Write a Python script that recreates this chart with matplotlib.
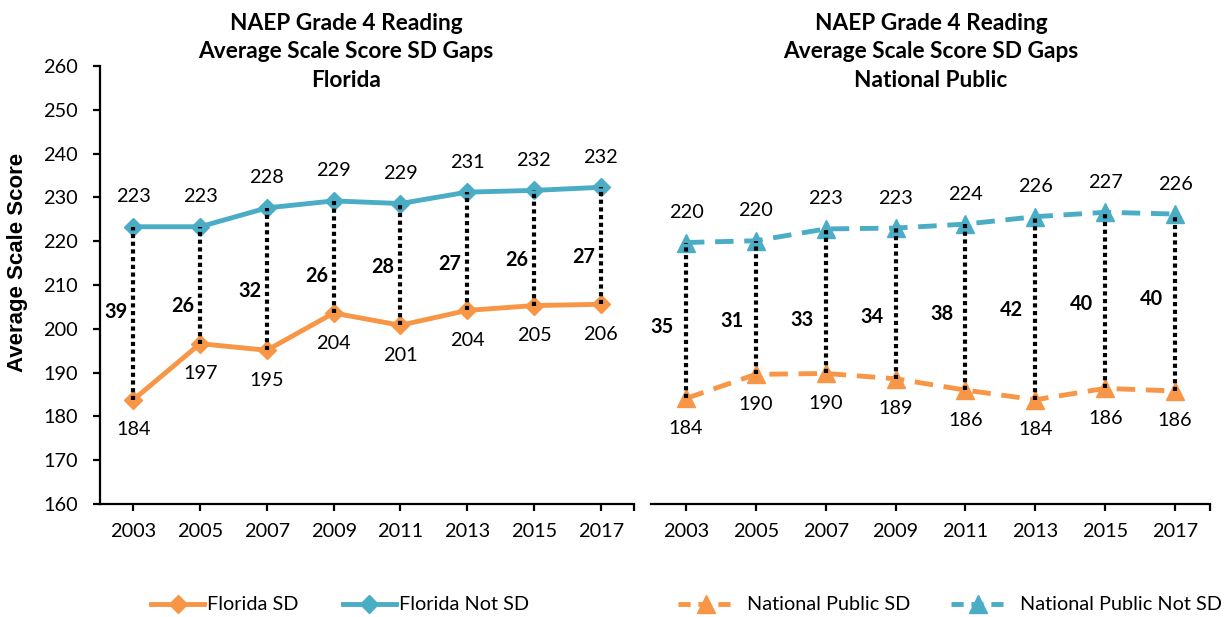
import matplotlib
matplotlib.use("Agg")
import matplotlib.pyplot as plt
from matplotlib.lines import Line2D

plt.rcParams['font.family'] = ['Lato', 'DejaVu Sans']

# ---------------- data ----------------
years = ["2003", "2005", "2007", "2009", "2011", "2013", "2015", "2017"]

florida_sd = [183.8, 196.6, 195.1, 203.6, 200.8, 204.2, 205.3, 205.6]
florida_not_sd = [223.3, 223.3, 227.6, 229.2, 228.6, 231.2, 231.6, 232.3]
florida_gaps = [39, 26, 32, 26, 28, 27, 26, 27]
florida_gap_label_y = [203.8, 205.3, 208.7, 212.1, 214.2, 214.8, 215.7, 216.3]

national_sd = [184.1, 189.6, 189.8, 188.6, 186.0, 183.8, 186.4, 185.8]
national_not_sd = [219.7, 220.1, 222.8, 223.0, 223.9, 225.6, 226.6, 226.2]
national_gaps = [35, 31, 33, 34, 38, 42, 40, 40]
national_gap_label_y = [200.5, 201.8, 202.1, 202.7, 203.3, 204.3, 205.7, 206.9]

y_ticks = [160, 170, 180, 190, 200, 210, 220, 230, 240, 250, 260]

ORANGE = "#F79646"
BLUE = "#4BACC6"
W, H = 1227, 617

fig = plt.figure(figsize=(W / 100, H / 100), dpi=100)

def fx(px):
    return px / W

def fy(py):
    return 1 - py / H

ax1 = fig.add_axes([fx(100), fy(504), fx(634) - fx(100), fy(66) - fy(504)])
ax2 = fig.add_axes([fx(651), fy(504), fx(1210) - fx(651), fy(66) - fy(504)])

x = list(range(len(years)))
FS = 14.3


def style_axis(ax, show_y):
    ax.set_xlim(-0.5, len(years) - 0.5)
    ax.set_ylim(160, 260)
    for s in ["top", "right"]:
        ax.spines[s].set_visible(False)
    ax.spines["bottom"].set_linewidth(1.6)
    ax.set_xticks(x + [len(years) - 0.5])
    ax.set_xticklabels(years + [""], fontsize=FS)
    ax.tick_params(axis="x", length=5, width=1.6, pad=9, direction="out")
    if show_y:
        ax.spines["left"].set_linewidth(1.6)
        ax.set_yticks(y_ticks)
        ax.set_yticklabels([str(v) for v in y_ticks], fontsize=FS)
        ax.tick_params(axis="y", length=5, width=1.6, pad=11)
    else:
        ax.spines["left"].set_visible(False)
        ax.set_yticks([])


def draw(ax, sd, notsd, gaps, gap_y, marker, dashed, gap_dx):
    ms = 13 if dashed else 9.5
    extra = dict(dashes=(3.8, 2.2), dash_capstyle="butt") if dashed else dict(solid_capstyle="round")
    ax.plot(x, sd, color=ORANGE, mfc=ORANGE, mec=ORANGE, ms=ms, lw=3.5,
            marker=marker, zorder=3, **extra)
    ax.plot(x, notsd, color=BLUE, mfc=BLUE, mec=BLUE, ms=ms, lw=3.5,
            marker=marker, zorder=3, **extra)
    for i in x:
        ax.plot([i, i], [sd[i], notsd[i]], color="black", lw=3.0,
                linestyle=(0, (1, 0.85)), zorder=4)
        ax.annotate(f"{notsd[i]:.0f}", (i, notsd[i]), xytext=(0, 21.6),
                    textcoords="offset points", ha="center", va="center",
                    fontsize=FS)
        ax.annotate(f"{sd[i]:.0f}", (i, sd[i]), xytext=(0, -21.6),
                    textcoords="offset points", ha="center", va="center",
                    fontsize=FS)
        ax.annotate(str(gaps[i]), (i, gap_y[i]), xytext=(gap_dx, 0),
                    textcoords="offset points", ha="center", va="center",
                    fontsize=FS, fontweight="bold")


style_axis(ax1, True)
style_axis(ax2, False)
draw(ax1, florida_sd, florida_not_sd, florida_gaps, florida_gap_label_y, "D", False, -12.5)
draw(ax2, national_sd, national_not_sd, national_gaps, national_gap_label_y, "^", True, -17)

# titles
fig.text(fx(346), fy(52), "NAEP Grade 4 Reading\nAverage Scale Score SD Gaps\nFlorida",
         ha="center", va="center", fontsize=16.3, fontweight="bold", linespacing=1.42)
fig.text(fx(931), fy(52), "NAEP Grade 4 Reading\nAverage Scale Score SD Gaps\nNational Public",
         ha="center", va="center", fontsize=16.3, fontweight="bold", linespacing=1.42)

fig.text(fx(18), fy(262), "Average Scale Score", rotation=90, ha="center",
         va="center", fontsize=16, fontweight="bold",
         family=["Liberation Sans", "DejaVu Sans"])

# legends
h1 = [Line2D([], [], color=ORANGE, lw=3.5, marker="D", ms=9.5),
      Line2D([], [], color=BLUE, lw=3.5, marker="D", ms=9.5)]
fig.legend(h1, ["Florida SD", "Florida Not SD"], loc="center",
           bbox_to_anchor=(fx(340), fy(605)), ncol=2, frameon=False,
           fontsize=FS, handlelength=2.7, handletextpad=0.15, columnspacing=2.2,
           borderpad=0, borderaxespad=0)
h2 = [Line2D([], [], color=ORANGE, lw=3.5, marker="^", ms=13, dashes=(2.5, 1.6)),
      Line2D([], [], color=BLUE, lw=3.5, marker="^", ms=13, dashes=(2.5, 1.6))]
fig.legend(h2, ["National Public SD", "National Public Not SD"], loc="center",
           bbox_to_anchor=(fx(950), fy(605)), ncol=2, frameon=False,
           fontsize=FS, handlelength=2.8, handletextpad=0.7, columnspacing=2.0,
           borderpad=0, borderaxespad=0)

fig.savefig("out.png", dpi=100)
